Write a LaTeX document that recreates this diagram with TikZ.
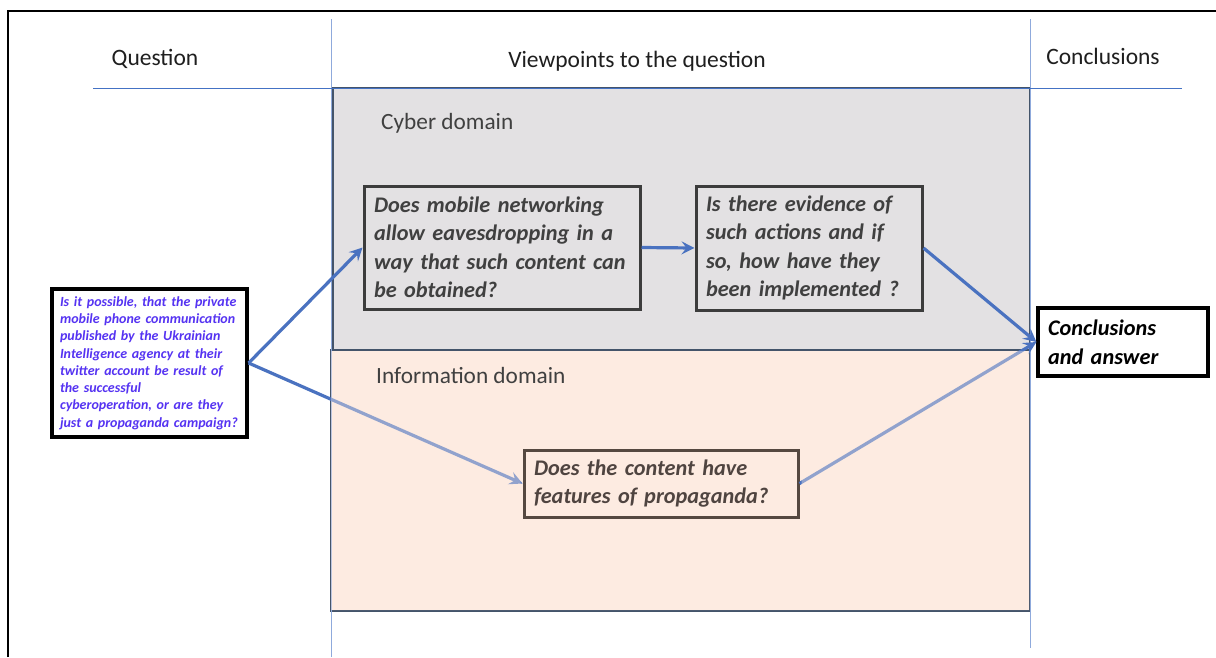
\documentclass[tikz,border=0pt]{standalone}
\usepackage{fontspec}
\setmainfont{Carlito}
\usetikzlibrary{arrows.meta}
\definecolor{cybergray}{HTML}{E3E1E3}
\definecolor{infopeach}{HTML}{FDEBE1}
\definecolor{domainline}{HTML}{44546A}
\definecolor{colline}{HTML}{8FAADC}
\definecolor{headline}{HTML}{4472C4}
\definecolor{flowblue}{HTML}{4A72C0}
\definecolor{boxtext}{HTML}{404040}
\definecolor{boxframe}{HTML}{3C3C3C}
\definecolor{brownframe}{HTML}{554840}
\definecolor{browntext}{HTML}{4F4440}
\definecolor{asktext}{HTML}{5533F2}
\tikzset{
  heading/.style={font=\fontsize{23.5}{28}\selectfont, text=black!88, inner sep=0pt},
  domainlabel/.style={font=\fontsize{23.3}{28}\selectfont, text=boxtext, inner sep=0pt, anchor=west},
  stepbox/.style={draw=boxframe, line width=3pt, fill=cybergray, text=boxtext,
    font=\fontsize{22.3}{28.5}\selectfont\bfseries\itshape, align=left,
    inner xsep=10pt, inner ysep=0pt},
  askbox/.style={draw=black, line width=3.2pt, fill=white, text=asktext,
    font=\fontsize{14}{17.3}\selectfont\bfseries\itshape, align=left,
    inner xsep=8pt, inner ysep=0pt},
  flow/.style={draw=flowblue, line width=3.2pt,
    -{Stealth[length=13pt,width=13pt,inset=5pt]}},
}
\begin{document}
\begin{tikzpicture}[x=1pt,y=-1pt]
  \useasboundingbox (0,0) rectangle (1216,657);
  \fill[white] (0,0) rectangle (1216,657);

  % outer frame (runs off the page on the right and bottom)
  \draw[black, line width=2pt] (8,657) -- (8,11) -- (1216,11);

  % domain areas
  \filldraw[fill=cybergray, draw=domainline, line width=1.2pt] (333,88) rectangle (1030,350);
  \filldraw[fill=infopeach, draw=domainline, line width=1.2pt] (331,350) rectangle (1030,611);

  % column and header rules
  \draw[colline, line width=1pt] (331,19) -- (331,657);
  \draw[colline, line width=1pt] (1030,19) -- (1030,648);
  \draw[headline, line width=1pt] (93,88) -- (1182,88);

  % column headings
  \node[heading] (hq) at (155,59) {Question};
  \node[heading] (hv) at (637,61) {Viewpoints to the question};
  \node[heading] (hc) at (1103,56) {Conclusions};

  % boxes
  \node[askbox, minimum width=195pt, minimum height=148pt, text width=179pt] (ask) at (149.5,363)
    {Is it possible, that the private\\mobile phone communication\\published by the Ukrainian\\Intelligence agency at their\\twitter account be result of\\the successful\\cyberoperation, or are they\\just a propaganda campaign?};
  \node[stepbox, minimum width=276pt, minimum height=123pt, text width=256pt] (eaves) at (502,247.5)
    {Does mobile networking\\allow eavesdropping in a\\way that such content can\\be obtained?};
  \node[stepbox, minimum width=226pt, minimum height=124pt, text width=206pt] (evid) at (809,248)
    {Is there evidence of\\such actions and if\\so, how have they\\been implemented ?};
  \node[stepbox, draw=brownframe, fill=infopeach, text=browntext, minimum width=274pt, minimum height=67pt, text width=254pt] (prop) at (661,483.5)
    {Does the content have\\features of propaganda?};
  \node[stepbox, minimum width=170pt, draw=black, fill=white, text=black, line width=3.2pt, minimum height=68pt, text width=150pt] (concl) at (1123,342)
    {Conclusions\\and answer};

  % connectors
  \draw[flow] (ask.east) -- (eaves.west);
  \draw[flow] (eaves.east) -- (evid.west);
  \draw[flow] (evid.east) -- (concl.west);
  \draw[flow] (ask.east) -- (prop.west);
  \draw[flow] (prop.east) -- (concl.west);

  % paler tint over the information area, leaving its question box untouched
  \fill[infopeach, fill opacity=0.4, even odd rule]
    (331,351) rectangle (1029,610)
    ([shift={(-2,-2)}]prop.north west) rectangle ([shift={(2,2)}]prop.south east);

  % domain labels
  \node[domainlabel] (lcyber) at (381,123) {Cyber domain};
  \node[domainlabel] (linfo) at (376,375) {Information domain};
\end{tikzpicture}
\end{document}
